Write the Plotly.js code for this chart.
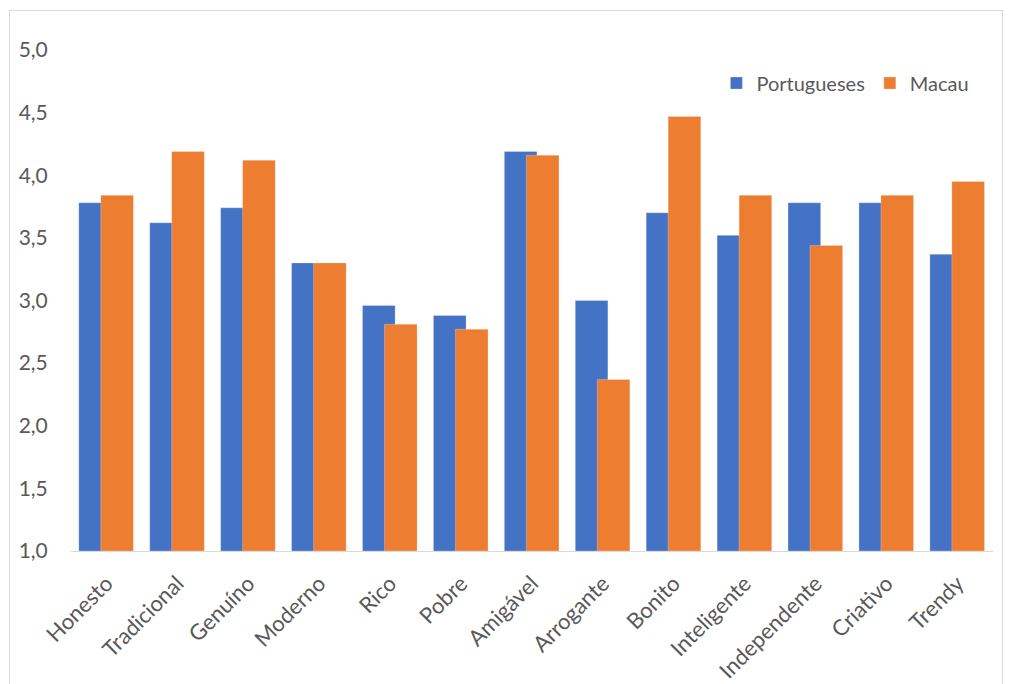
<!DOCTYPE html>
<html>
<head>
<meta charset="utf-8">
<script src="https://cdn.plot.ly/plotly-3.0.1.min.js"></script>
<style>
html,body{margin:0;padding:0;background:#fff;}
#wrap{position:relative;width:1011px;height:684px;}
#frame{position:absolute;left:9px;top:10px;width:994px;height:690px;border:1px solid #d9d9d9;box-sizing:border-box;}
#chart{position:absolute;left:0;top:0;width:1011px;height:684px;}
</style>
</head>
<body>
<div id="wrap"><div id="frame"></div><div id="chart"></div></div>
<script>
const categories = ["Honesto","Tradicional","Genuíno","Moderno","Rico","Pobre","Amigável","Arrogante","Bonito","Inteligente","Independente","Criativo","Trendy"];
const portugueses = [3.78, 3.62, 3.74, 3.30, 2.96, 2.88, 4.19, 3.00, 3.70, 3.52, 3.78, 3.78, 3.37];
const macau = [3.84, 4.19, 4.12, 3.30, 2.81, 2.77, 4.16, 2.37, 4.47, 3.84, 3.44, 3.84, 3.95];
const yTicks = [1.0, 1.5, 2.0, 2.5, 3.0, 3.5, 4.0, 4.5, 5.0];

const fontFam = "Lato, 'Open Sans', sans-serif";
const axisBase = 1;
const traces = [
  {type:'bar', name:'Portugueses', x:categories, y:portugueses.map(v=>v-axisBase), base:axisBase,
   width:0.46, offset:-0.39, marker:{color:'#4472c4', line:{color:'rgba(255,255,255,0.5)', width:0.5}}},
  {type:'bar', name:'Macau', x:categories, y:macau.map(v=>v-axisBase), base:axisBase,
   width:0.46, offset:-0.08, marker:{color:'#ed7d31', line:{color:'rgba(255,255,255,0.5)', width:0.5}}}
];

const layout = {
  width:1011, height:684,
  margin:{l:71, r:18, t:50, b:133},
  paper_bgcolor:'rgba(0,0,0,0)', plot_bgcolor:'rgba(0,0,0,0)',
  barmode:'overlay',
  separators:',.',
  font:{family:fontFam, color:'#595959', size:20},
  showlegend:true,
  legend:{orientation:'h', x:0.70, y:0.934, xanchor:'left', yanchor:'middle',
          font:{size:20, color:'#595959'}, traceorder:'normal', itemwidth:30, bgcolor:'rgba(0,0,0,0)'},
  xaxis:{type:'category', tickangle:-45, showgrid:false, showline:true, linecolor:'#d9d9d9', linewidth:1,
         ticks:'outside', ticklen:10, tickcolor:'rgba(0,0,0,0)', tickfont:{size:22, color:'#595959'},
         range:[-0.5, 12.5], fixedrange:true},
  yaxis:{range:[1,5], tickvals:yTicks, tickformat:'.1f', showgrid:false, zeroline:false, showline:false,
         ticks:'outside', ticklen:18, tickcolor:'rgba(0,0,0,0)', tickfont:{size:21, color:'#595959'}}
};
Plotly.newPlot('chart', traces, layout, {displayModeBar:false, staticPlot:true});
</script>
</body>
</html>
